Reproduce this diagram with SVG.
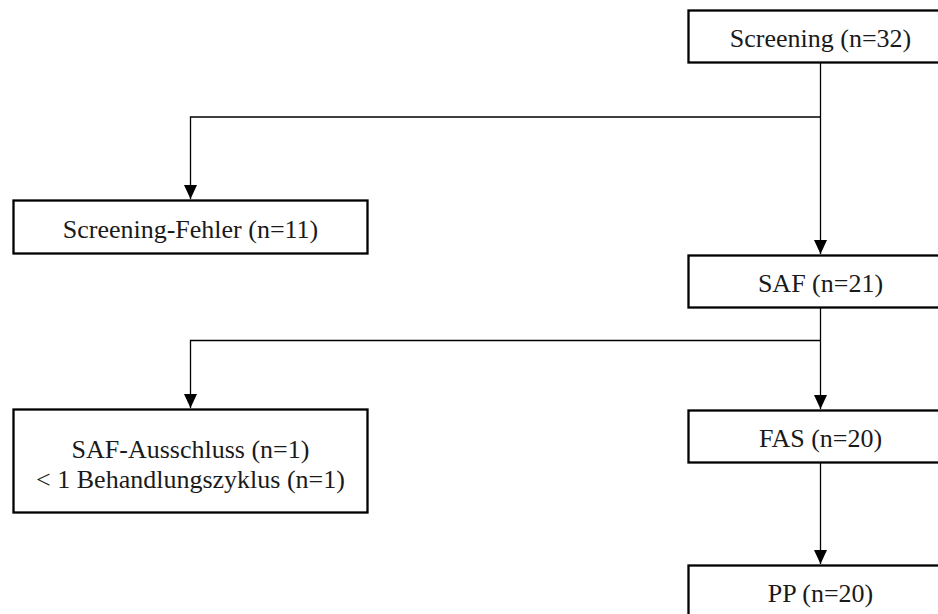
<svg xmlns="http://www.w3.org/2000/svg" width="938" height="614" viewBox="0 0 938 614">
<style>
.box{fill:#fff;stroke:#000;stroke-width:2.3}
.lbl{font-family:"Liberation Serif","Times New Roman",serif;font-size:26px;fill:#1a1a1a;text-anchor:middle}
.con{fill:none;stroke:#000;stroke-width:1.3}
</style>
<defs>
<marker id="arr" markerUnits="userSpaceOnUse" markerWidth="14" markerHeight="14" refX="14" refY="6.5" orient="auto">
<path d="M0,0 L14,6.5 L0,13 z" fill="#000"/>
</marker>
</defs>
<rect width="938" height="614" fill="#fff"/>
<g id="connectors">
<path class="con" d="M820.5,62 V254" marker-end="url(#arr)"/>
<path class="con" d="M820.5,117 H190.5 V199" marker-end="url(#arr)"/>
<path class="con" d="M820.5,307 V409" marker-end="url(#arr)"/>
<path class="con" d="M820.5,340.5 H190.5 V408" marker-end="url(#arr)"/>
<path class="con" d="M820.5,462 V564" marker-end="url(#arr)"/>
</g>
<g id="screening">
<rect class="box" x="688.5" y="10.5" width="265" height="52"/>
<text class="lbl" x="820.5" y="46.5">Screening (n=32)</text>
</g>
<g id="screening-fehler">
<rect class="box" x="13.5" y="200.5" width="354" height="53"/>
<text class="lbl" x="190.5" y="237.5">Screening-Fehler (n=11)</text>
</g>
<g id="saf">
<rect class="box" x="688.5" y="255.5" width="265" height="52"/>
<text class="lbl" x="820.5" y="291.5">SAF (n=21)</text>
</g>
<g id="saf-ausschluss">
<rect class="box" x="13.5" y="409.5" width="354" height="103"/>
<text class="lbl" x="190.5" y="458">SAF-Ausschluss (n=1)</text>
<text class="lbl" x="190.5" y="488">&lt; 1 Behandlungszyklus (n=1)</text>
</g>
<g id="fas">
<rect class="box" x="688.5" y="410.5" width="265" height="52"/>
<text class="lbl" x="820.5" y="446.5">FAS (n=20)</text>
</g>
<g id="pp">
<rect class="box" x="688.5" y="565.5" width="265" height="52"/>
<text class="lbl" x="820.5" y="601.5">PP (n=20)</text>
</g>
</svg>
